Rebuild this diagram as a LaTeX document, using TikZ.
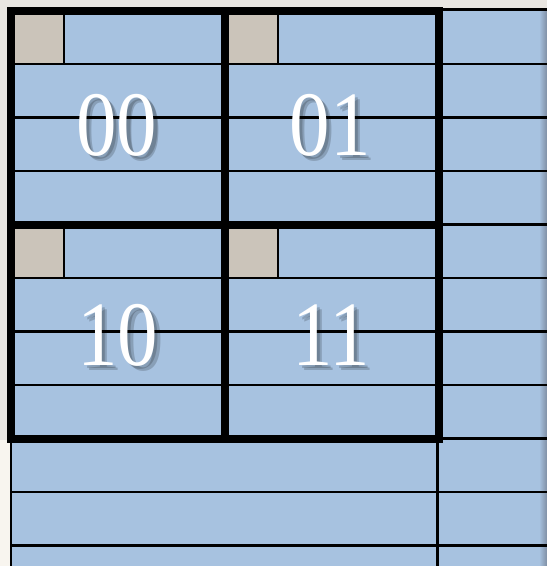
\documentclass[tikz,border=0pt]{standalone}
\usepackage{fontspec}
\usepackage{tikz}
\newfontfamily\digitfont{Liberation Serif}
\definecolor{cellblue}{HTML}{A7C2E0}
\definecolor{taggray}{HTML}{CBC4BA}
\definecolor{pagebg}{HTML}{E9E6E1}
\definecolor{pagebgl}{HTML}{F8F5EF}
\definecolor{edgeblue}{HTML}{7F8EA3}
\tikzset{
  thinline/.style={line width=2.6pt,black},
  thickline/.style={line width=8pt,black},
  tagbox/.style={fill=taggray,draw=black,line width=2pt},
  lbl/.style={inner sep=0pt,text=white,xscale=0.88,font=\digitfont\fontsize{92}{92}\selectfont},
  lblshadow/.style={lbl,text=black,opacity=0.18}
}

\begin{document}
\begin{tikzpicture}[x=1pt,y=-1pt]
\useasboundingbox (0,0) rectangle (547,566);
\fill[pagebg](0,0) rectangle (547,566);
\fill[pagebgl](0,440) rectangle (11,566);
\fill[cellblue](11,11) rectangle (547,566);
\fill[cellblue](438,9) rectangle (547,566);
\shade[left color=cellblue,right color=edgeblue](539,9) rectangle (547,566);
% rows
\foreach \y in {64,117.5,171,224.5,278,331.5,385,438.5,492,545.5}
  \draw[thinline](11,\y)--(547,\y);
\draw[thinline](438,9.5)--(547,9.5);
\draw[thinline](11,438)--(11,566)
(437.5,438)--(437.5,566);
% tags
\draw[tagbox](11,11) rectangle (64,64);
\draw[tagbox](225,11) rectangle (278,64);
\draw[tagbox](11,224.5) rectangle (64,278);
\draw[tagbox](225,224.5) rectangle (278,278);
% blocks
\draw[thickline](11,11) rectangle (438.5,438.5);
\draw[thickline](225,11)--(225,438.5)
(11,224.5)--(438.5,224.5);
% labels
\foreach \t/\x/\y in {00/117/125,01/330/125,10/118/335,11/331/335}{
  \foreach \d in {3,5}
    \node[lblshadow](s\t\d) at (\x+\d,\y+\d) {\t};
  \node[lbl](n\t) at (\x,\y) {\t};
}
\end{tikzpicture}
\end{document}
